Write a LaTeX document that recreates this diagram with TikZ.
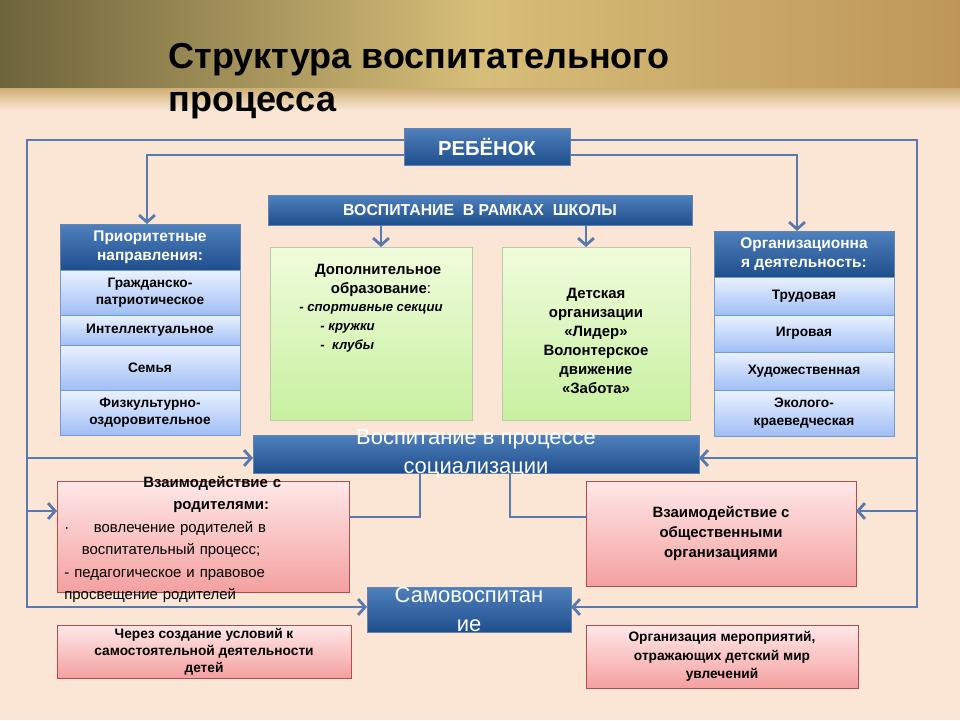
\documentclass[tikz,border=0pt]{standalone}
\usepackage{fontspec}
\setmainfont{Liberation Sans}
\usetikzlibrary{arrows.meta,fit}

\definecolor{peach}{RGB}{251,229,212}
\definecolor{linecol}{RGB}{88,122,175}
\definecolor{bluetop}{RGB}{79,129,189}
\definecolor{bluebot}{RGB}{31,78,140}
\definecolor{rowtop}{RGB}{235,242,255}
\definecolor{rowbot}{RGB}{160,190,245}
\definecolor{greentop}{RGB}{240,252,220}
\definecolor{greenbot}{RGB}{200,240,160}
\definecolor{pinktop}{RGB}{255,232,232}
\definecolor{pinkbot}{RGB}{244,160,160}

\tikzset{
  box/.style={inner sep=0pt, outer sep=0pt},
  bluebox/.style={box, draw=bluebot!70, top color=bluetop, bottom color=bluebot},
  rowbox/.style={box, draw=bluetop!80, top color=rowtop, bottom color=rowbot},
  greenbox/.style={box, draw=greenbot!70!black!60, top color=greentop, bottom color=greenbot},
  pinkbox/.style={box, draw=red!55!black!70, top color=pinktop, bottom color=pinkbot},
  wtxt/.style={text=white, align=center},
  btxt/.style={text=black, align=center},
  link/.style={draw=linecol, line width=1.6pt},
  arr/.style={link, -{Straight Barb[length=4pt,width=9pt]}}
}

\begin{document}
\begin{tikzpicture}[x=0.02cm, y=-0.02cm]

  % background
  \fill[peach] (0,0) rectangle (960,720);
  \shade[left color={rgb,255:red,110;green,100;blue,60}, right color={rgb,255:red,190;green,150;blue,90},
         middle color={rgb,255:red,215;green,190;blue,120}] (0,0) rectangle (960,90);
  \shade[top color={rgb,255:red,205;green,175;blue,115}, bottom color=peach] (0,88) rectangle (960,110);

  \node[anchor=west, font=\fontsize{20.5}{24.5}\selectfont\bfseries, align=left, inner sep=0pt] (title) at (168,81)
    {Структура воспитательного\\процесса};

  % top
  \node (child) [bluebox, fit={(404,128) (570,165)},
    label={[wtxt, font=\fontsize{11.5}{13}\selectfont\bfseries]center:РЕБЁНОК}] {};
  \node (school) [bluebox, fit={(268,195) (692,225)},
    label={[wtxt, font=\fontsize{9}{11}\selectfont\bfseries]center:ВОСПИТАНИЕ~ В РАМКАХ~ ШКОЛЫ}] {};

  % left column
  \node (prior) [bluebox, fit={(60,224) (240,270)},
    label={[wtxt, font=\fontsize{8.8}{11}\selectfont\bfseries]center:Приоритетные\\направления:}] {};
  \node (civ) [rowbox, fit={(60,270) (240,315)},
    label={[btxt, font=\fontsize{7.8}{10}\selectfont\bfseries]center:Гражданско-\\патриотическое}] {};
  \node (intel) [rowbox, fit={(60,315) (240,345)},
    label={[btxt, font=\fontsize{7.8}{10}\selectfont\bfseries]center:Интеллектуальное}] {};
  \node (family) [rowbox, fit={(60,345) (240,390)},
    label={[btxt, font=\fontsize{7.8}{10}\selectfont\bfseries]center:Семья}] {};
  \node (sport) [rowbox, fit={(60,390) (240,435)},
    label={[btxt, font=\fontsize{7.8}{10}\selectfont\bfseries]center:Физкультурно-\\оздоровительное}] {};

  % right column
  \node (org) [bluebox, fit={(714,231) (894,277)},
    label={[wtxt, font=\fontsize{8.8}{11}\selectfont\bfseries]center:Организационна\\я деятельность:}] {};
  \node (work) [rowbox, fit={(714,277) (894,315)},
    label={[btxt, font=\fontsize{7.8}{10}\selectfont\bfseries]center:Трудовая}] {};
  \node (play) [rowbox, fit={(714,315) (894,352)},
    label={[btxt, font=\fontsize{7.8}{10}\selectfont\bfseries]center:Игровая}] {};
  \node (art) [rowbox, fit={(714,352) (894,390)},
    label={[btxt, font=\fontsize{7.8}{10}\selectfont\bfseries]center:Художественная}] {};
  \node (eco) [rowbox, fit={(714,390) (894,436)},
    label={[btxt, font=\fontsize{7.8}{10}\selectfont\bfseries]center:Эколого-\\краеведческая}] {};

  % green boxes
  \node (extra) [greenbox, fit={(270,247) (472,420)},
    label={[btxt, font=\fontsize{8.5}{10.8}\selectfont\bfseries, anchor=north, align=left, yshift=-6pt]north:
      \hspace*{9pt}Дополнительное\\\hspace*{18pt}образование\mdseries:\\
      {\fontsize{7.5}{10}\selectfont\bfseries\itshape - спортивные секции}\\
      {\fontsize{7.5}{10}\selectfont\bfseries\itshape\hspace*{12pt}- кружки}\\
      {\fontsize{7.5}{10}\selectfont\bfseries\itshape\hspace*{12pt}-\ \ клубы}}] {};
  \node (leader) [greenbox, fit={(502,247) (690,420)},
    label={[btxt, font=\fontsize{8.5}{10.8}\selectfont\bfseries, anchor=north, yshift=-20pt]north:
      Детская\\организации\\«Лидер»\\Волонтерское\\движение\\«Забота»}] {};

  % socialization
  \node (social) [bluebox, fit={(253,435) (699,473)}] {};
  \node[wtxt, font=\fontsize{12.5}{16.5}\selectfont] at (social) {Воспитание в процессе\\социализации};

  % pink boxes
  \node (parents) [pinkbox, fit={(57,481) (349,592)}] {};
  \node[text width=5.7cm, anchor=north west, align=left, font=\fontsize{8.5}{12.8}\selectfont, inner sep=0pt] at (64,476)
    {\hspace*{45pt}\textbf{Взаимодействие с}\\\hspace*{62pt}\textbf{родителями:}\\
     ·\hspace*{14pt}вовлечение родителей в\\\hspace*{10pt}воспитательный процесс;\\
     - педагогическое и правовое\\просвещение родителей};
  \node (public) [pinkbox, fit={(586,481) (856,586)},
    label={[btxt, font=\fontsize{8.5}{11.5}\selectfont\bfseries]center:Взаимодействие с\\общественными\\организациями}] {};

  \node (self) [bluebox, fit={(367,587) (571,632)}] {};
  \node[wtxt, font=\fontsize{12.5}{16.5}\selectfont] at (self) {Самовоспитан\\ие};

  \node (cond) [pinkbox, fit={(57,625) (351,678)},
    label={[btxt, font=\fontsize{7.8}{9.6}\selectfont\bfseries]center:Через создание условий к\\самостоятельной деятельности\\детей}] {};
  \node (events) [pinkbox, fit={(586,625) (858,688)},
    label={[btxt, font=\fontsize{7.8}{10.5}\selectfont\bfseries]center:Организация мероприятий,\\отражающих детский мир\\увлечений}] {};

  % connectors
  \draw[arr] (child.west |- 0,140) -| (27,607) -- (self.west |- 0,607);
  \draw[arr] (child.east |- 0,140) -| (917,607) -- (self.east |- 0,607);
  \draw[arr] (child.west |- 0,155) -| (prior.north -| 147,0);
  \draw[arr] (child.east |- 0,155) -| (org.north -| 797,0);
  \draw[arr] (school.south -| 381,0) -- (extra.north -| 381,0);
  \draw[arr] (school.south -| 586,0) -- (leader.north -| 586,0);
  \draw[arr] (27,458) -- (social.west |- 0,458);
  \draw[arr] (917,458) -- (social.east |- 0,458);
  \draw[arr] (27,511) -- (parents.west |- 0,511);
  \draw[arr] (917,511) -- (public.east |- 0,511);
  \draw[link] (parents.east |- 0,517) -| (social.south -| 420,0);
  \draw[link] (social.south -| 510,0) |- (public.west |- 0,517);

\end{tikzpicture}
\end{document}
